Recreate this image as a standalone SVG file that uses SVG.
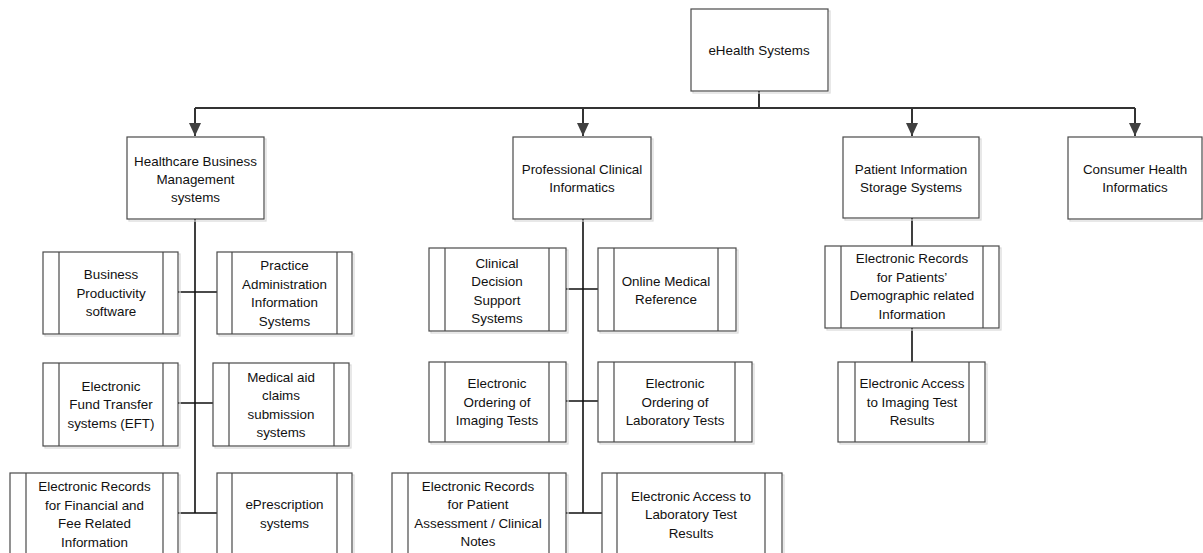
<svg xmlns="http://www.w3.org/2000/svg" width="1203" height="553" viewBox="0 0 1203 553">
<style>
.bx{fill:#fff;stroke:#4a4a4a;stroke-width:1.2}
.sh{fill:none;stroke:#d9d9d9;stroke-width:1.2}
.in{stroke:#4a4a4a;stroke-width:1.2}
.t{font-family:"Liberation Sans",Arial,sans-serif;font-size:13.4px;fill:#111;text-anchor:middle}
.c{fill:none;stroke:#333;stroke-width:2}
.s{fill:none;stroke:#111;stroke-width:1.6}
</style>
<defs>
<marker id="ah" markerUnits="userSpaceOnUse" markerWidth="14" markerHeight="12" refX="13" refY="6" orient="auto" viewBox="0 0 14 12">
<path d="M0,0 L13,6 L0,12 Z" fill="#404040"/>
</marker>
</defs>
<rect width="1203" height="553" fill="#fff"/>
<g id="connectors">
<path class="c" d="M759,91 V108 M195,108 H1135"/>
<path class="c" d="M195,108 V136" marker-end="url(#ah)"/>
<path class="c" d="M583,108 V136" marker-end="url(#ah)"/>
<path class="c" d="M912,108 V136" marker-end="url(#ah)"/>
<path class="c" d="M1135,108 V136" marker-end="url(#ah)"/>
<path class="s" d="M195,219 V513 M178,292 H217 M178,403 H213 M178,513 H217"/>
<path class="s" d="M583,219 V513 M566,289 H598 M566,401 H598 M566,513 H602"/>
<path class="s" d="M912,218 V246 M912,328 V362"/>
</g>
<g id="root">
<rect class="sh" x="693" y="11" width="137" height="82"/>
<rect class="bx" x="691" y="9" width="137" height="82"/>
<text class="t" x="759" y="55">eHealth Systems</text>
</g>
<g id="hbm">
<rect class="sh" x="129" y="139" width="137" height="82"/>
<rect class="bx" x="127" y="137" width="137" height="82"/>
<text class="t" x="195.5"><tspan x="195.5" y="165.5">Healthcare Business</tspan><tspan x="195.5" y="183.5">Management</tspan><tspan x="195.5" y="201.5">systems</tspan></text>
</g>
<g id="pci">
<rect class="sh" x="515" y="139" width="138" height="82"/>
<rect class="bx" x="513" y="137" width="138" height="82"/>
<text class="t"><tspan x="582" y="174">Professional Clinical</tspan><tspan x="582" y="192">Informatics</tspan></text>
</g>
<g id="piss">
<rect class="sh" x="845" y="139" width="136" height="81"/>
<rect class="bx" x="843" y="137" width="136" height="81"/>
<text class="t"><tspan x="911" y="174">Patient Information</tspan><tspan x="911" y="192">Storage Systems</tspan></text>
</g>
<g id="chi">
<rect class="sh" x="1070" y="139" width="135" height="82"/>
<rect class="bx" x="1068" y="137" width="134" height="82"/>
<text class="t"><tspan x="1135" y="174">Consumer Health</tspan><tspan x="1135" y="192">Informatics</tspan></text>
</g>
<g id="bp">
<rect class="sh" x="45" y="254" width="135" height="82"/>
<rect class="bx" x="43" y="252" width="135" height="82"/>
<path class="in" d="M59,252 V334 M163,252 V334"/>
<text class="t"><tspan x="111" y="279">Business</tspan><tspan x="111" y="297.5">Productivity</tspan><tspan x="111" y="316">software</tspan></text>
</g>
<g id="pa">
<rect class="sh" x="219" y="254" width="135" height="82"/>
<rect class="bx" x="217" y="252" width="135" height="82"/>
<path class="in" d="M232,252 V334 M337,252 V334"/>
<text class="t"><tspan x="284.5" y="270">Practice</tspan><tspan x="284.5" y="288.5">Administration</tspan><tspan x="284.5" y="307">Information</tspan><tspan x="284.5" y="325.5">Systems</tspan></text>
</g>
<g id="eft">
<rect class="sh" x="45" y="365" width="135" height="83"/>
<rect class="bx" x="43" y="363" width="135" height="83"/>
<path class="in" d="M59,363 V446 M163,363 V446"/>
<text class="t"><tspan x="111" y="390.5">Electronic</tspan><tspan x="111" y="409">Fund Transfer</tspan><tspan x="111" y="427.5">systems (EFT)</tspan></text>
</g>
<g id="ma">
<rect class="sh" x="215" y="365" width="136" height="83"/>
<rect class="bx" x="213" y="363" width="136" height="83"/>
<path class="in" d="M229,363 V446 M334,363 V446"/>
<text class="t"><tspan x="281" y="381.5">Medical aid</tspan><tspan x="281" y="400">claims</tspan><tspan x="281" y="418.5">submission</tspan><tspan x="281" y="437">systems</tspan></text>
</g>
<g id="eff">
<rect class="sh" x="12" y="475" width="168" height="82"/>
<rect class="bx" x="10" y="473" width="168" height="82"/>
<path class="in" d="M26,473 V555 M163,473 V555"/>
<text class="t"><tspan x="94.5" y="491">Electronic Records</tspan><tspan x="94.5" y="509.5">for Financial and</tspan><tspan x="94.5" y="528">Fee Related</tspan><tspan x="94.5" y="546.5">Information</tspan></text>
</g>
<g id="ep">
<rect class="sh" x="219" y="475" width="135" height="82"/>
<rect class="bx" x="217" y="473" width="135" height="82"/>
<path class="in" d="M232,473 V555 M337,473 V555"/>
<text class="t"><tspan x="284.5" y="509">ePrescription</tspan><tspan x="284.5" y="527.5">systems</tspan></text>
</g>
<g id="cds">
<rect class="sh" x="431" y="250" width="137" height="83"/>
<rect class="bx" x="429" y="248" width="137" height="83"/>
<path class="in" d="M445,248 V331 M549,248 V331"/>
<text class="t"><tspan x="497" y="267.5">Clinical</tspan><tspan x="497" y="286">Decision</tspan><tspan x="497" y="304.5">Support</tspan><tspan x="497" y="323">Systems</tspan></text>
</g>
<g id="omr">
<rect class="sh" x="600" y="250" width="138" height="83"/>
<rect class="bx" x="598" y="248" width="138" height="83"/>
<path class="in" d="M614,248 V331 M718,248 V331"/>
<text class="t"><tspan x="666" y="285.5">Online Medical</tspan><tspan x="666" y="304">Reference</tspan></text>
</g>
<g id="eoit">
<rect class="sh" x="431" y="364" width="137" height="80"/>
<rect class="bx" x="429" y="362" width="137" height="80"/>
<path class="in" d="M445,362 V442 M549,362 V442"/>
<text class="t"><tspan x="497" y="388">Electronic</tspan><tspan x="497" y="406.5">Ordering of</tspan><tspan x="497" y="425">Imaging Tests</tspan></text>
</g>
<g id="eolt">
<rect class="sh" x="600" y="364" width="154" height="80"/>
<rect class="bx" x="598" y="362" width="154" height="80"/>
<path class="in" d="M614,362 V442 M735,362 V442"/>
<text class="t"><tspan x="675" y="388">Electronic</tspan><tspan x="675" y="406.5">Ordering of</tspan><tspan x="675" y="425">Laboratory Tests</tspan></text>
</g>
<g id="epa">
<rect class="sh" x="394" y="475" width="174" height="82"/>
<rect class="bx" x="392" y="473" width="174" height="82"/>
<path class="in" d="M408,473 V555 M549,473 V555"/>
<text class="t"><tspan x="478" y="490.5">Electronic Records</tspan><tspan x="478" y="509">for Patient</tspan><tspan x="478" y="527.5">Assessment / Clinical</tspan><tspan x="478" y="546">Notes</tspan></text>
</g>
<g id="ealt">
<rect class="sh" x="604" y="475" width="180" height="82"/>
<rect class="bx" x="602" y="473" width="180" height="82"/>
<path class="in" d="M617,473 V555 M765,473 V555"/>
<text class="t"><tspan x="691" y="500.5">Electronic Access to</tspan><tspan x="691" y="519">Laboratory Test</tspan><tspan x="691" y="537.5">Results</tspan></text>
</g>
<g id="erpd">
<rect class="sh" x="827" y="248" width="174" height="82"/>
<rect class="bx" x="825" y="246" width="174" height="82"/>
<path class="in" d="M841,246 V328 M983,246 V328"/>
<text class="t"><tspan x="912" y="263">Electronic Records</tspan><tspan x="912" y="281.5">for Patients’</tspan><tspan x="912" y="300">Demographic related</tspan><tspan x="912" y="318.5">Information</tspan></text>
</g>
<g id="eait">
<rect class="sh" x="840" y="364" width="147" height="80"/>
<rect class="bx" x="838" y="362" width="147" height="80"/>
<path class="in" d="M855,362 V442 M969,362 V442"/>
<text class="t"><tspan x="912" y="388">Electronic Access</tspan><tspan x="912" y="406.5">to Imaging Test</tspan><tspan x="912" y="425">Results</tspan></text>
</g>
</svg>
